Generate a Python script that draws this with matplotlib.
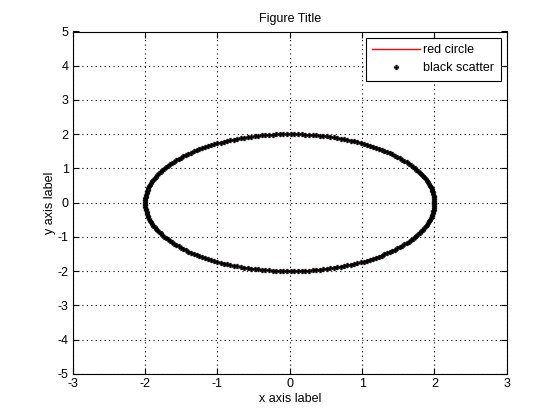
import numpy as np
import matplotlib
matplotlib.use("Agg")
import matplotlib.pyplot as plt

radius = 2.0
n_points = 250
x_ticks = [-3, -2, -1, 0, 1, 2, 3]
y_ticks = [-5, -4, -3, -2, -1, 0, 1, 2, 3, 4, 5]
title = "Figure Title"
x_label = "x axis label"
y_label = "y axis label"

theta = np.linspace(0, 2 * np.pi, n_points)
xs = radius * np.cos(theta)
ys = radius * np.sin(theta)

plt.rcParams['font.family'] = ['Liberation Sans', 'DejaVu Sans']
plt.rcParams['font.size'] = 9
plt.rcParams['axes.unicode_minus'] = False

fig = plt.figure(figsize=(5.6, 4.2), dpi=100)
ax = fig.add_axes([0.13, 0.11, 0.775, 0.815])
ax.plot(xs, ys, color='red', lw=1, label='red circle')
ax.plot(xs, ys, linestyle='none', marker='P', markersize=3.5, color='black',
        markeredgewidth=0.3, label='black scatter')
ax.set_xlim(-3, 3)
ax.set_ylim(-5, 5)
ax.set_xticks(x_ticks)
ax.set_yticks(y_ticks)
ax.grid(True, linestyle=(0, (1, 3)), color='black', linewidth=0.8)
ax.tick_params(direction='in', top=True, right=True, length=4, labelsize=9, pad=3)
for s in ax.spines.values():
    s.set_linewidth(0.8)
ax.set_title(title, fontsize=9, pad=7)
ax.set_xlabel(x_label, fontsize=9, labelpad=2)
ax.set_ylabel(y_label, fontsize=9, labelpad=1)
leg = ax.legend(loc='upper right', fancybox=False, edgecolor='black', framealpha=1,
                fontsize=9, borderaxespad=0.5, handlelength=3.8, borderpad=0.5,
                handletextpad=0.3, labelspacing=0.5)
leg.get_frame().set_linewidth(0.8)
fig.savefig("out.png", dpi=100, facecolor='white')
